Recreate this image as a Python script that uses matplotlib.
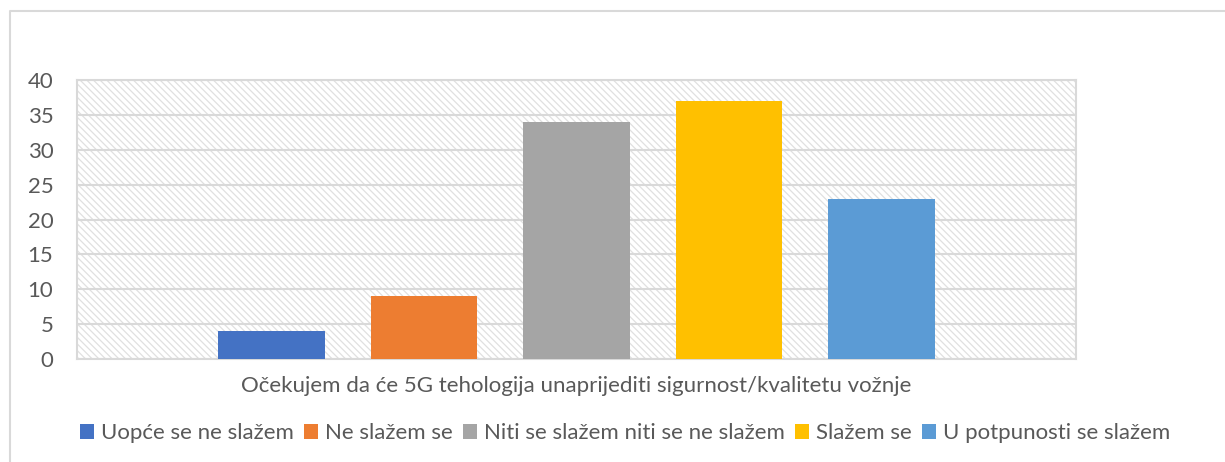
import matplotlib.pyplot as plt
from matplotlib.patches import Rectangle
from matplotlib.lines import Line2D

plt.rcParams['font.family'] = ['Lato', 'DejaVu Sans']
plt.rcParams['hatch.linewidth'] = 0.9

# podaci
kategorije = ["Uopće se ne slažem", "Ne slažem se", "Niti se slažem niti se ne slažem",
              "Slažem se", "U potpunosti se slažem"]
vrijednosti = [4, 9, 34, 37, 23]
boje = ["#4472C4", "#ED7D31", "#A5A5A5", "#FFC000", "#5B9BD5"]
naslov_osi = "Očekujem da će 5G tehologija unaprijediti sigurnost/kvalitetu vožnje"
y_tickovi = [0, 5, 10, 15, 20, 25, 30, 35, 40]

siva_tekst = "#595959"
siva_linija = "#d9d9d9"
vel = 16

fig = plt.figure(figsize=(12.25, 4.62), dpi=100)
ax = fig.add_axes([77/1225, 1 - 359/462, 999/1225, 279/462])

# pozadina s crtkanjem
ax.patch.set_visible(False)
pozadina = Rectangle((0, 0), 1, 1, transform=ax.transAxes, facecolor="white",
                     edgecolor="#e0e0e0", hatch="\\\\\\\\\\", linewidth=0, zorder=0)
ax.add_patch(pozadina)

korak = 0.1527
sirina = 0.107
for i, (k, v, b) in enumerate(zip(kategorije, vrijednosti, boje)):
    ax.bar((i - 2) * korak, v, width=sirina, color=b, label=k, zorder=3)

ax.set_xlim(-0.5, 0.5)
ax.set_ylim(0, 40)
ax.set_yticks(y_tickovi)
ax.set_xticks([])
ax.tick_params(axis="y", length=0, pad=17, labelsize=vel, labelcolor=siva_tekst)
ax.grid(axis="y", color=siva_linija, linewidth=1.5, zorder=1)
for s in ax.spines.values():
    s.set_color(siva_linija)
    s.set_linewidth(1.5)
    s.set_zorder(2)

fig.text(576.5/1225, 1 - 386/462, naslov_osi, ha="center", va="center",
         fontsize=vel, color=siva_tekst)

leg = fig.legend(loc="center", bbox_to_anchor=(625/1225, 1 - 433/462), ncol=5,
                 frameon=False, fontsize=vel, handlelength=0.65, handleheight=0.65,
                 handletextpad=0.3, columnspacing=0.45, borderaxespad=0)
for t in leg.get_texts():
    t.set_color(siva_tekst)

# vanjski okvir
fig.add_artist(Line2D([10/1225, 10/1225, 1], [0, 1 - 11/462, 1 - 11/462],
                      transform=fig.transFigure, color=siva_linija, linewidth=1.5))

plt.savefig("out.png", dpi=100)
